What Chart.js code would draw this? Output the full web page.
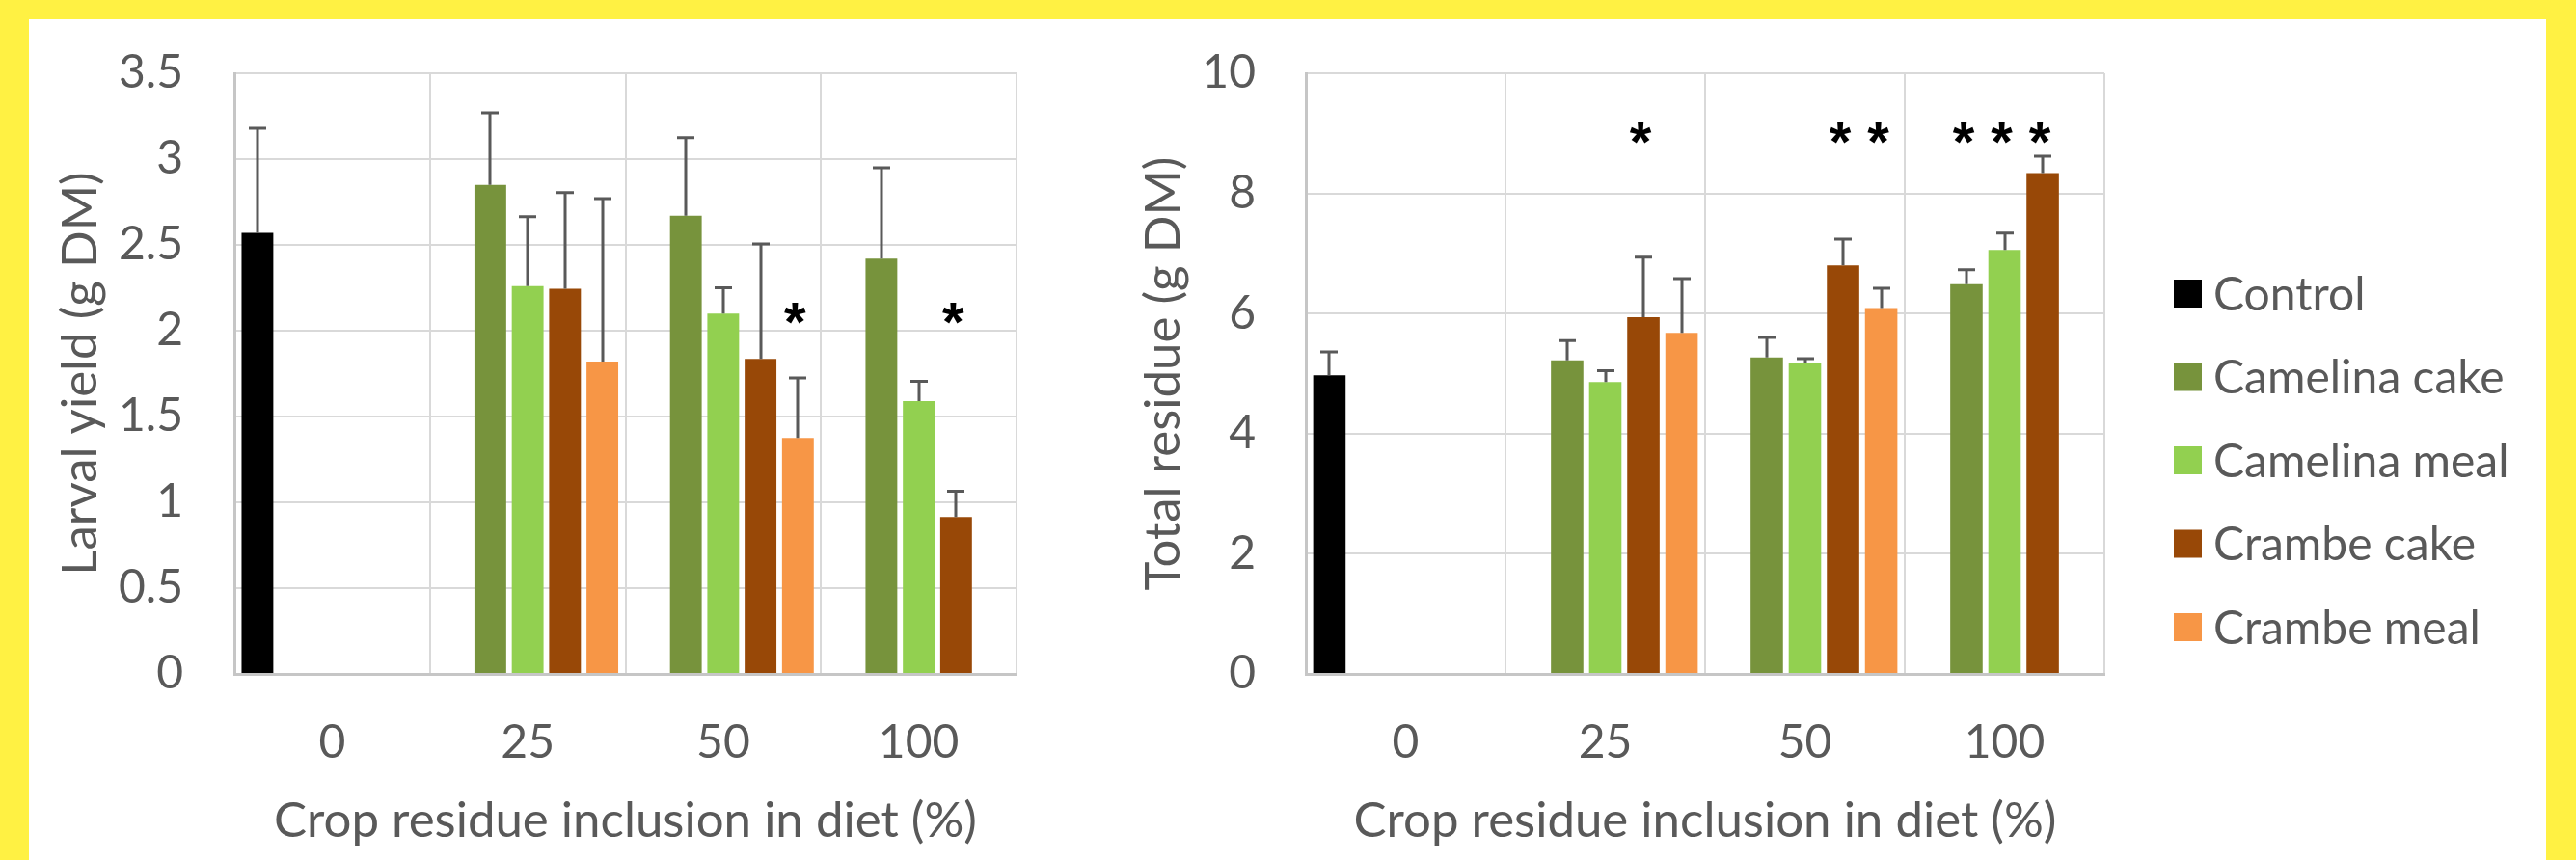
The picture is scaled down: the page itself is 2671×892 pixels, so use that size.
<!DOCTYPE html>
<html>
<head>
<meta charset="utf-8">
<script src="https://cdn.jsdelivr.net/npm/chart.js@4.4.1/dist/chart.umd.min.js"></script>
<style>
    html, body { margin: 0; padding: 0; }
    body { width: 2671px; height: 892px; background: #fff143; position: relative; overflow: hidden; }
    #panel { position: absolute; left: 30px; top: 20px; width: 2610px; height: 872px; background: #fff; }
    canvas { position: absolute; top: 0; }
    #yieldChart { left: 0; }
    #residueChart { left: 1090px; }
</style>
</head>
<body>
<div id="panel">
    <canvas id="yieldChart" width="1090" height="872"></canvas>
    <canvas id="residueChart" width="1520" height="872"></canvas>
</div>
<script>
const categories = ["0", "25", "50", "100"];
const seriesNames = ["Control", "Camelina cake", "Camelina meal", "Crambe cake", "Crambe meal"];
const seriesColors = ["#000000", "#77933c", "#92d050", "#984807", "#f79646"];

// larval yield (g DM): means
const yieldControl = [2.57, null, null, null];
const yieldCamelinaCake = [null, 2.85, 2.67, 2.42];
const yieldCamelinaMeal = [null, 2.26, 2.10, 1.59];
const yieldCrambeCake = [null, 2.245, 1.835, 0.915];
const yieldCrambeMeal = [null, 1.82, 1.375, null];
// larval yield: SD (upper error bar)
const yieldControlSd = [0.61, null, null, null];
const yieldCamelinaCakeSd = [null, 0.42, 0.455, 0.53];
const yieldCamelinaMealSd = [null, 0.405, 0.15, 0.115];
const yieldCrambeCakeSd = [null, 0.56, 0.67, 0.15];
const yieldCrambeMealSd = [null, 0.95, 0.35, null];
const yieldTicks = [0, 3.5, 0.5]; // min, max, step
const yieldStars = [["50", "Crambe meal"], ["100", "Crambe cake"]];
const yieldStarLevel = 2.1;

// total residue (g DM): means
const residueControl = [4.97, null, null, null];
const residueCamelinaCake = [null, 5.22, 5.27, 6.49];
const residueCamelinaMeal = [null, 4.86, 5.17, 7.06];
const residueCrambeCake = [null, 5.94, 6.80, 8.34];
const residueCrambeMeal = [null, 5.68, 6.09, null];
// total residue: SD
const residueControlSd = [0.39, null, null, null];
const residueCamelinaCakeSd = [null, 0.33, 0.33, 0.24];
const residueCamelinaMealSd = [null, 0.19, 0.08, 0.28];
const residueCrambeCakeSd = [null, 1.0, 0.44, 0.28];
const residueCrambeMealSd = [null, 0.9, 0.33, null];
const residueTicks = [0, 10, 2];
const residueStars = [
    ["25", "Crambe cake"],
    ["50", "Crambe cake"], ["50", "Crambe meal"],
    ["100", "Camelina cake"], ["100", "Camelina meal"], ["100", "Crambe cake"]
];
const residueStarLevel = 9.0;

const textColor = "#595959";
const gridColor = "#d9d9d9";
const axisColor = "#c6c6c6";
const tickSize = 48;
const titleSize = 51;

Chart.defaults.font.family = "Lato, 'Open Sans', sans-serif";
Chart.defaults.color = textColor;

function makeDatasets(means, sds) {
    return means.map((values, i) => ({
        label: seriesNames[i],
        data: values,
        sd: sds[i],
        backgroundColor: seriesColors[i],
        categoryPercentage: 0.955,
        barPercentage: 0.85
    }));
}

const errorBarPlugin = {
    id: "errorBars",
    afterDatasetsDraw(chart) {
        const ctx = chart.ctx;
        const yScale = chart.scales.y;
        ctx.save();
        ctx.strokeStyle = "#595959";
        ctx.lineWidth = 3;
        chart.data.datasets.forEach((ds, di) => {
            const meta = chart.getDatasetMeta(di);
            ds.data.forEach((v, i) => {
                if (v === null || ds.sd[i] === null) return;
                const x = Math.round(meta.data[i].x);
                const y0 = yScale.getPixelForValue(v);
                const y1 = yScale.getPixelForValue(v + ds.sd[i]);
                ctx.beginPath();
                ctx.moveTo(x, y0);
                ctx.lineTo(x, y1);
                ctx.moveTo(x - 9, y1);
                ctx.lineTo(x + 9, y1);
                ctx.stroke();
            });
        });
        ctx.restore();
    }
};

const starPlugin = {
    id: "stars",
    afterDatasetsDraw(chart, args, opts) {
        if (!opts.marks) return;
        const ctx = chart.ctx;
        const yScale = chart.scales.y;
        ctx.save();
        ctx.font = "bold 58px 'Liberation Sans', Arial, sans-serif";
        ctx.fillStyle = "#000";
        ctx.textAlign = "center";
        ctx.textBaseline = "alphabetic";
        const m = ctx.measureText("*");
        const shift = (m.actualBoundingBoxAscent - m.actualBoundingBoxDescent) / 2;
        opts.marks.forEach(([cat, name]) => {
            const di = chart.data.datasets.findIndex(d => d.label === name);
            const ci = chart.data.labels.indexOf(cat);
            const bar = chart.getDatasetMeta(di).data[ci];
            ctx.fillText("*", bar.x - 3, yScale.getPixelForValue(opts.level) + shift);
        });
        ctx.restore();
    }
};

const sideLegendPlugin = {
    id: "sideLegend",
    afterDraw(chart, args, opts) {
        if (!opts.show) return;
        const ctx = chart.ctx;
        ctx.save();
        ctx.font = "48px Lato, 'Open Sans', sans-serif";
        ctx.textAlign = "left";
        ctx.textBaseline = "middle";
        chart.data.datasets.forEach((ds, i) => {
            const cy = opts.top + i * opts.step;
            ctx.fillStyle = ds.backgroundColor;
            ctx.fillRect(opts.x, cy - 14.5, 29, 29);
            ctx.fillStyle = textColor;
            ctx.fillText(ds.label, opts.x + 41, cy + 2);
        });
        ctx.restore();
    }
};

function tickText(v) {
    return String(Number(v.toFixed(2)));
}

function buildChart(canvasId, datasets, ticks, yTitle, cfg) {
    const ctx = document.getElementById(canvasId).getContext("2d");
    return new Chart(ctx, {
        type: "bar",
        data: { labels: categories, datasets: datasets },
        plugins: [errorBarPlugin, starPlugin, sideLegendPlugin],
        options: {
            responsive: false,
            animation: false,
            layout: { padding: { top: 56, right: cfg.padRight, left: 0, bottom: 0 } },
            plugins: {
                legend: { display: false },
                tooltip: { enabled: false },
                stars: { marks: cfg.stars, level: cfg.starLevel },
                sideLegend: cfg.legend
            },
            scales: {
                x: {
                    grid: { color: gridColor, lineWidth: 2, drawTicks: false, offset: true },
                    border: { color: axisColor, width: 3 },
                    ticks: { color: textColor, font: { size: tickSize }, padding: 43 },
                    title: {
                        display: true,
                        text: "Crop residue inclusion in diet (%)",
                        color: textColor,
                        font: { size: titleSize },
                        padding: { top: 0, bottom: 10 }
                    },
                    afterFit(scale) {
                        scale.height = 193;
                        scale.paddingLeft = 0;
                        scale.paddingRight = 0;
                    }
                },
                y: {
                    min: ticks[0],
                    max: ticks[1],
                    ticks: {
                        stepSize: ticks[2],
                        color: textColor,
                        font: { size: tickSize },
                        padding: cfg.tickPad,
                        callback: tickText
                    },
                    grid: { color: gridColor, lineWidth: 2, drawTicks: false },
                    border: { color: axisColor, width: 3 },
                    title: {
                        display: true,
                        text: yTitle,
                        color: textColor,
                        font: { size: titleSize },
                        padding: { top: cfg.titlePad, bottom: 0 }
                    },
                    afterFit(scale) {
                        scale.width = cfg.axisWidth;
                        scale.paddingTop = 0;
                        scale.paddingBottom = 0;
                    }
                }
            }
        }
    });
}

buildChart(
    "yieldChart",
    makeDatasets(
        [yieldControl, yieldCamelinaCake, yieldCamelinaMeal, yieldCrambeCake, yieldCrambeMeal],
        [yieldControlSd, yieldCamelinaCakeSd, yieldCamelinaMealSd, yieldCrambeCakeSd, yieldCrambeMealSd]
    ),
    yieldTicks,
    "Larval yield (g DM)",
    { padRight: 66, axisWidth: 213, tickPad: 53, titlePad: 23, stars: yieldStars, starLevel: yieldStarLevel, legend: { show: false } }
);

buildChart(
    "residueChart",
    makeDatasets(
        [residueControl, residueCamelinaCake, residueCamelinaMeal, residueCrambeCake, residueCrambeMeal],
        [residueControlSd, residueCamelinaCakeSd, residueCamelinaMealSd, residueCrambeCakeSd, residueCrambeMealSd]
    ),
    residueTicks,
    "Total residue (g DM)",
    { padRight: 458, axisWidth: 234, tickPad: 52, titlePad: 56, stars: residueStars, starLevel: residueStarLevel,
      legend: { show: true, x: 1134, top: 284.5, step: 86.5 } }
);
</script>
</body>
</html>
